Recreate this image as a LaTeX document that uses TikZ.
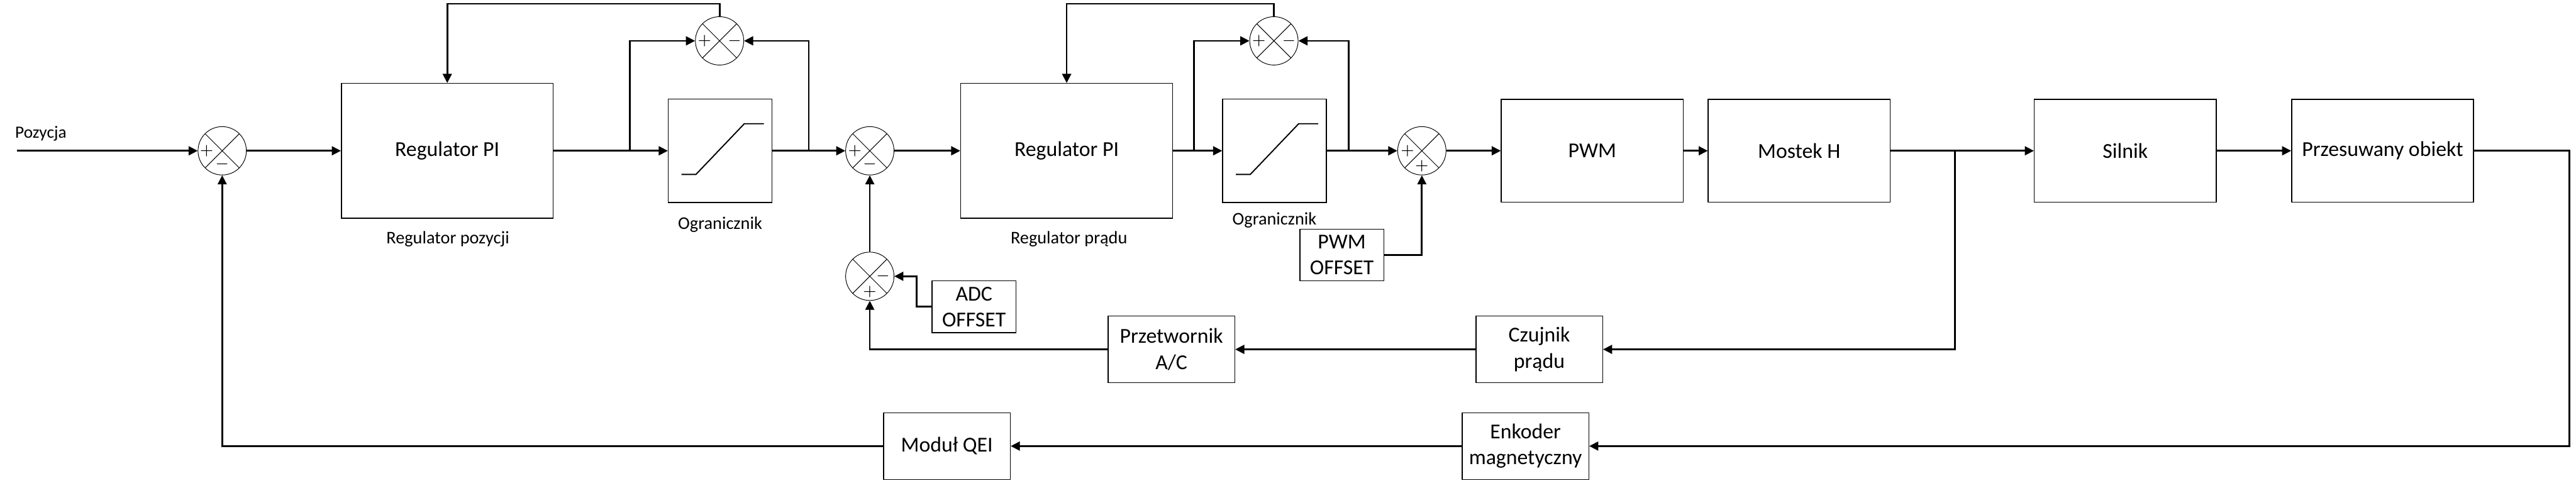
\documentclass[tikz,border=0pt]{standalone}
\usepackage{fontspec}
\setmainfont{Carlito}
\usetikzlibrary{arrows.meta,positioning}

\begin{document}
\begin{tikzpicture}[line width=0.85pt,
  arr/.style={-{Triangle[length=4.5pt,width=4.4pt]}},
  blk/.style={draw,line width=0.45pt,align=center,inner sep=0pt,font=\fontsize{10.5}{12.8}\selectfont},
  duzy/.style={blk,minimum width=3.16cm,minimum height=1.79cm},
  regpi/.style={blk,minimum width=3.68cm,minimum height=2.34cm},
  offs/.style={blk,minimum width=1.46cm,minimum height=0.9cm},
  dolny/.style={blk,minimum width=2.2cm,minimum height=1.16cm},
  ogr/.style={blk,minimum size=1.8cm,path picture={\draw[line width=0.6pt] ([shift={(-0.67,-0.41)}]path picture bounding box.center) -- ++(0.25,0) -- ++(0.84,0.88) -- ++(0.34,0);}},
  sumj/.style={circle,draw,line width=0.3pt,minimum size=0.84cm,inner sep=0pt,
    path picture={\draw[line width=0.3pt] (path picture bounding box.north west) -- (path picture bounding box.south east)
      (path picture bounding box.north east) -- (path picture bounding box.south west);}},
  sgn/.style={inner sep=0pt,font=\fontsize{8}{8}\selectfont},
  podpis/.style={inner sep=0pt,font=\fontsize{8.8}{10}\selectfont}]
\useasboundingbox (0,0) rectangle (44.75,8.47);

% tor glowny
\node[inner sep=0pt,anchor=west,font=\fontsize{8.5}{10}\selectfont] (poz) at (0.25,6.15) {Pozycja};
\coordinate (in) at (0.29,5.85);
\node[sumj] (s1) at (3.86,5.85) {};
\node[regpi] (pi1) at (7.77,5.85) {Regulator PI};
\node[podpis] (pi1l) at (7.78,4.32) {Regulator pozycji};
\node[ogr] (lim1) at (12.51,5.85) {};
\node[podpis] (lim1l) at (12.51,4.57) {Ogranicznik};
\node[sumj] (t1) at (12.50,7.76) {};
\node[sumj] (s2) at (15.11,5.85) {};
\node[regpi] (pi2) at (18.53,5.85) {Regulator PI};
\node[podpis] (pi2l) at (18.57,4.32) {Regulator prądu};
\node[ogr] (lim2) at (22.14,5.85) {};
\node[podpis] (lim2l) at (22.14,4.64) {Ogranicznik};
\node[sumj] (t2) at (22.13,7.76) {};
\node[sumj] (s4) at (24.70,5.85) {};
\node[offs] (off1) at (23.31,4.04) {PWM\\OFFSET};
\node[duzy] (pwm) at (27.66,5.85) {PWM};
\node[duzy] (most) at (31.255,5.85) {Mostek H};
\node[duzy] (siln) at (36.92,5.85) {Silnik};
\node[duzy] (obj) at (41.39,5.85) {Przesuwany obiekt};

% sprzezenia
\node[sumj] (s5) at (15.11,3.67) {};
\node[offs] (off2) at (16.92,3.14) {ADC\\OFFSET};
\node[dolny] (adc) at (20.35,2.40) {Przetwornik\\A/C};
\node[dolny] (czuj) at (26.74,2.40) {Czujnik\\prądu};
\node[dolny] (enk) at (26.50,0.72) {Enkoder\\magnetyczny};
\node[dolny] (qei) at (16.45,0.72) {Moduł QEI};

% znaki
\node[sgn] (s1a) at ([xshift=-0.27cm]s1.center) {$+$};
\node[sgn] (s1b) at ([yshift=-0.23cm]s1.center) {$-$};
\node[sgn] (t1a) at ([xshift=-0.26cm]t1.center) {$+$};
\node[sgn] (t1b) at ([xshift=0.26cm]t1.center) {$-$};
\node[sgn] (s2a) at ([xshift=-0.26cm]s2.center) {$+$};
\node[sgn] (s2b) at ([yshift=-0.23cm]s2.center) {$-$};
\node[sgn] (t2a) at ([xshift=-0.26cm]t2.center) {$+$};
\node[sgn] (t2b) at ([xshift=0.26cm]t2.center) {$-$};
\node[sgn] (s4a) at ([xshift=-0.25cm]s4.center) {$+$};
\node[sgn] (s4b) at ([yshift=-0.27cm]s4.center) {$+$};
\node[sgn] (s5a) at ([xshift=0.23cm]s5.center) {$-$};
\node[sgn] (s5b) at ([yshift=-0.27cm]s5.center) {$+$};

\coordinate (b1) at (10.94,5.85);
\coordinate (b2) at (14.05,5.85);
\coordinate (b3) at (20.74,5.85);
\coordinate (b4) at (23.43,5.85);
\coordinate (b5) at (33.96,5.85);

\draw[arr] (in) -- (s1.west);
\draw[arr] (s1.east) -- (pi1.west);
\draw[arr] (pi1.east) -- (lim1.west);
\draw[arr] (b1) |- (t1.west);
\draw[arr] (lim1.east) -- (s2.west);
\draw[arr] (b2) |- (t1.east);
\draw[arr] (t1.north) -- ++(0,0.22) -| (pi1.north);
\draw[arr] (s2.east) -- (pi2.west);
\draw[arr] (pi2.east) -- (lim2.west);
\draw[arr] (b3) |- (t2.west);
\draw[arr] (lim2.east) -- (s4.west);
\draw[arr] (b4) |- (t2.east);
\draw[arr] (t2.north) -- ++(0,0.22) -| (pi2.north);
\draw[arr] (off1.east) -| (s4.south);
\draw[arr] (s4.east) -- (pwm.west);
\draw[arr] (pwm.east) -- (most.west);
\draw[arr] (most.east) -- (siln.west);
\draw[arr] (siln.east) -- (obj.west);
\draw[arr] (b5) |- (czuj.east);
\draw[arr] (czuj.west) -- (adc.east);
\draw[arr] (adc.west) -| (s5.south);
\draw[arr] (off2.west) -- ++(-0.26,0) |- (s5.east);
\draw[arr] (s5.north) -- (s2.south);
\draw[arr] (obj.east) -- ++(1.66,0) |- (enk.east);
\draw[arr] (enk.west) -- (qei.east);
\draw[arr] (qei.west) -| (s1.south);
\end{tikzpicture}
\end{document}
